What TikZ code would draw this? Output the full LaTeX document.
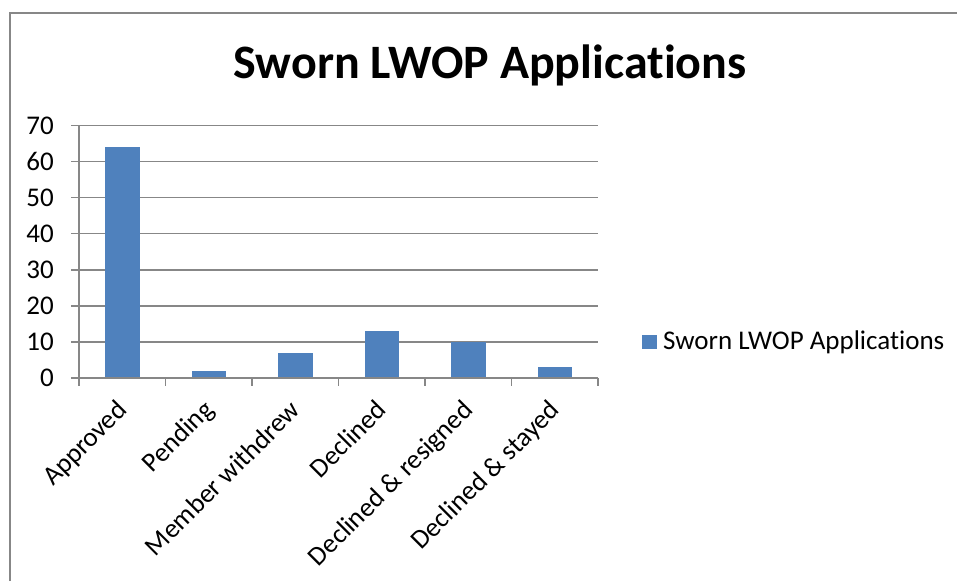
\documentclass[tikz,border=0pt]{standalone}
\usepackage{fontspec}
\setmainfont{Carlito}[Ligatures=NoCommon]
\definecolor{barblue}{HTML}{4F81BD}
\definecolor{gridgray}{HTML}{878787}
\begin{document}
\begin{tikzpicture}[x=1pt,y=1pt,
  grid/.style={draw=gridgray,line width=1.3pt},
  ticklab/.style={anchor=east,inner sep=0pt,font=\fontsize{27}{30}\selectfont},
  catlab/.style={anchor=north east,inner sep=0pt,rotate=45,font=\fontsize{27}{30}\selectfont},
  bar/.style={fill=barblue,draw=none}]
\useasboundingbox (0,0) rectangle (957,581);
% frame
\draw[draw=gridgray,line width=1.5pt] (10,0) -- (10,568) -- (958,568);
% title
\node[font=\bfseries\fontsize{48}{52}\selectfont,inner sep=0pt] (title) at (490,516) {Sworn LWOP Applications};
% grid and y labels
\foreach \v [count=\i] in {0,10,20,30,40,50,60,70}{
  \pgfmathsetmacro{\yy}{203+3.604*\v}
  \draw[grid] (71,\yy) -- (598,\yy);
  \node[ticklab] (yl\i) at (54,\yy) {\v};
}
% y axis
\draw[grid] (79,203) -- (79,455.3);
% ticks
\foreach \k in {0,...,6}{
  \draw[grid] (79+86.5*\k,203) -- (79+86.5*\k,195);
}
% bars and labels
\foreach \val/\lab [count=\k from 0] in {64/Approved,2/Pending,7/Member withdrew,13/Declined,10/Declined \& resigned,3/Declined \& stayed}{
  \pgfmathsetmacro{\cx}{79+86.5*\k+43.25}
  \pgfmathsetmacro{\top}{203+3.604*\val}
  \fill[bar] (\cx-17.25,203.6) rectangle (\cx+17.25,\top);
  \node[catlab] (c\k) at (\cx-7,183) {\lab};
}
% legend
\fill[barblue] (642,232) rectangle (657,246);
\node[anchor=west,inner sep=0pt,font=\fontsize{27}{30}\selectfont] (leg) at (663,239) {Sworn LWOP Applications};
\end{tikzpicture}
\end{document}
